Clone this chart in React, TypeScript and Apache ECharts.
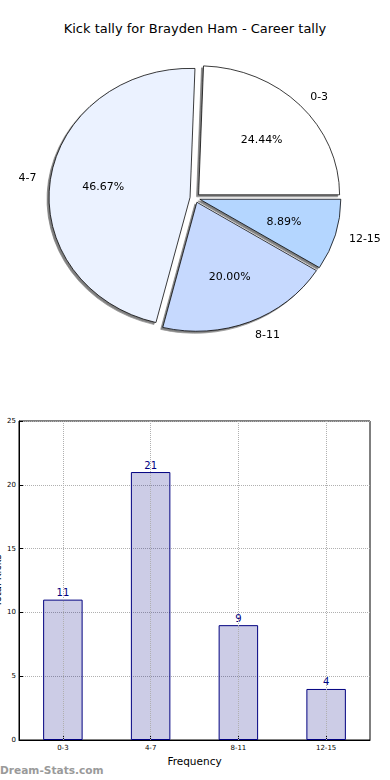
import React, { useEffect, useRef } from 'react';
import * as echarts from 'echarts';

const chartTitle = 'Kick tally for Brayden Ham - Career tally';
const categories = ['0-3', '4-7', '8-11', '12-15'];
const counts = [11, 21, 9, 4];
const sliceColors = ['#ffffff', '#ebf2ff', '#c6d9fe', '#b4d6ff'];
const yAxisTitle = 'Total Kicks';
const xAxisTitle = 'Frequency';
const watermark = 'Dream-Stats.com';
const yMin = 0;
const yMax = 25;
const yStep = 5;

const PIE_RX = 141;
const PIE_RY = 129;
const PIE_SCALE_Y = PIE_RY / PIE_RX;
const PIE_CX = 195;
const PIE_CY = 198;

const FONT = 'DejaVu Sans';

export default function App() {
  const barRef = useRef<HTMLDivElement>(null);
  const pieRef = useRef<HTMLDivElement>(null);

  useEffect(() => {
    const total = counts.reduce((a, b) => a + b, 0);
    const bar = echarts.init(barRef.current!, undefined, { renderer: 'svg' });
    const pie = echarts.init(pieRef.current!, undefined, { renderer: 'svg' });

    bar.setOption({
      animation: false,
      title: {
        text: chartTitle,
        left: 'center',
        top: 22,
        padding: 0,
        textStyle: { fontFamily: FONT, fontSize: 13, fontWeight: 'normal', color: '#000' },
      },
      grid: {
        left: 19,
        right: 20,
        top: 421,
        bottom: 40,
        containLabel: false,
        outerBoundsMode: 'none',
        show: true,
        borderColor: '#000',
        borderWidth: 1,
        backgroundColor: 'transparent',
      },
      xAxis: {
        type: 'category',
        data: categories,
        name: xAxisTitle,
        nameLocation: 'middle',
        nameGap: 15,
        nameTextStyle: { fontFamily: FONT, fontSize: 10.5, color: '#000' },
        axisLine: { lineStyle: { color: '#000', width: 1 } },
        axisTick: { show: true, inside: true, alignWithLabel: true, length: 4, lineStyle: { color: '#000' } },
        axisLabel: { fontFamily: FONT, fontSize: 7, color: '#000', margin: 4 },
        splitLine: { show: false },
      },
      yAxis: {
        type: 'value',
        min: yMin,
        max: yMax,
        interval: yStep,
        name: yAxisTitle,
        nameLocation: 'middle',
        nameGap: 17,
        nameRotate: 90,
        nameMoveOverlap: false,
        nameTextStyle: { fontFamily: FONT, fontSize: 10, color: '#000' },
        axisLine: { show: true, lineStyle: { color: '#000', width: 1 } },
        axisTick: { show: true, inside: true, length: 4, lineStyle: { color: '#000' } },
        axisLabel: { fontFamily: FONT, fontSize: 7, color: '#000', margin: 3 },
        splitLine: { show: true, lineStyle: { type: 'dotted', color: '#b0b0b0', width: 1 } },
      },
      series: [
        {
          type: 'bar',
          data: counts,
          barWidth: '45%',
          itemStyle: { color: 'rgba(0,0,128,0.2)', borderColor: '#000080', borderWidth: 1 },
          label: {
            show: true,
            position: 'top',
            distance: 2,
            color: '#000080',
            fontFamily: FONT,
            fontSize: 10,
          },
          markLine: {
            silent: true,
            symbol: 'none',
            label: { show: false },
            lineStyle: { type: 'dotted', color: '#b0b0b0', width: 1 },
            data: categories.map((c) => ({ xAxis: c })),
          },
        },
      ],
      graphic: [
        {
          type: 'text',
          left: 0,
          top: 764,
          style: { text: watermark, fill: '#9a9a9a', font: `bold 10.6px "${FONT}"` },
        },
      ],
    });

    const pieData = categories.map((c, i) => ({
      name: c,
      value: counts[i],
      selected: true,
      itemStyle: { color: sliceColors[i] },
    }));

    pie.setOption({
      animation: false,
      series: [
        {
          type: 'pie',
          center: [PIE_CX, PIE_CY / PIE_SCALE_Y],
          radius: PIE_RX,
          startAngle: 0,
          clockwise: false,
          selectedMode: 'multiple',
          selectedOffset: 5,
          avoidLabelOverlap: false,
          data: pieData,
          itemStyle: {
            borderColor: '#000',
            borderWidth: 0.8,
            shadowColor: 'rgba(0,0,0,0.5)',
            shadowBlur: 0.5,
            shadowOffsetX: -2,
            shadowOffsetY: 2,
          },
          label: {
            show: true,
            position: 'outside',
            fontFamily: FONT,
            fontSize: 11,
            color: '#000',
            distanceToLabelLine: 0,
          },
          labelLine: { show: false, length: PIE_RX * 0.1, length2: 0 },
          emphasis: { disabled: true },
        },
        {
          type: 'pie',
          center: [PIE_CX, PIE_CY / PIE_SCALE_Y],
          radius: [PIE_RX * 0.2, PIE_RX],
          startAngle: 0,
          clockwise: false,
          selectedMode: 'multiple',
          selectedOffset: 5,
          avoidLabelOverlap: false,
          silent: true,
          data: pieData.map((d) => ({ ...d, itemStyle: { color: 'transparent' } })),
          itemStyle: { color: 'transparent', borderWidth: 0 },
          label: {
            show: true,
            position: 'inside',
            fontFamily: FONT,
            fontSize: 11,
            color: '#000',
            formatter: (p: any) => ((p.value / total) * 100).toFixed(2) + '%',
          },
          labelLine: { show: false },
          emphasis: { disabled: true },
        },
      ],
    });

    return () => {
      bar.dispose();
      pie.dispose();
    };
  }, []);

  return (
    <div>
      <div
        ref={barRef}
        style={{ position: 'absolute', left: 0, top: 0, width: 390, height: 780 }}
      />
      <div
        ref={pieRef}
        style={{
          position: 'absolute',
          left: 0,
          top: 0,
          width: 390,
          height: 400,
          transform: `scaleY(${PIE_SCALE_Y})`,
          transformOrigin: '0 0',
        }}
      />
    </div>
  );
}
